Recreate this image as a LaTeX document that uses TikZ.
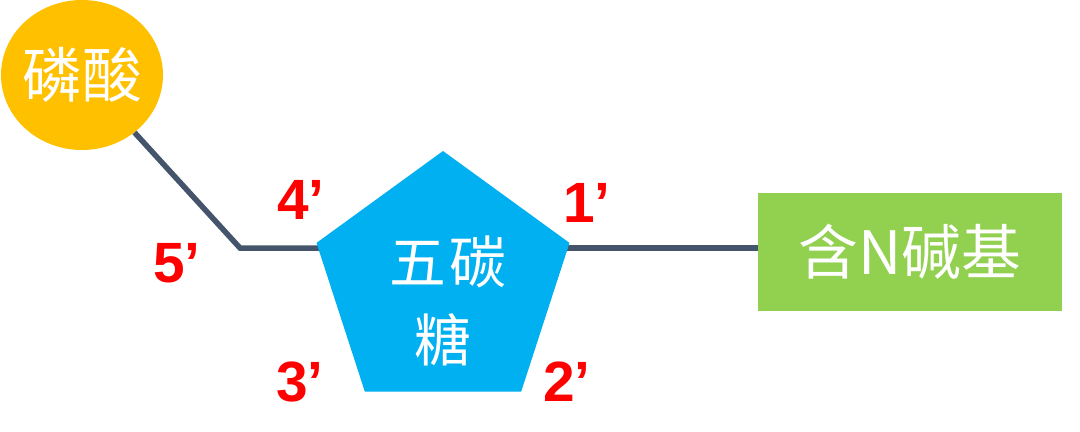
\documentclass[tikz,border=0pt]{standalone}
\usepackage{fontspec}
\setmainfont{Liberation Sans}
\newfontfamily\cjk{Noto Sans CJK SC}
\usetikzlibrary{shapes.geometric,backgrounds}

\definecolor{phoscol}{HTML}{FFC000}
\definecolor{sugarcol}{HTML}{00B0F0}
\definecolor{basecol}{HTML}{92D050}
\definecolor{bondcol}{HTML}{44546A}

\tikzset{
    bond/.style={draw=bondcol, line width=5.5bp},
    primelabel/.style={text=red, inner sep=0, font=\fontsize{57}{57}\selectfont\bfseries},
    cjklabel/.style={text=white, font=\cjk\fontsize{60}{62}\selectfont},
}

\begin{document}
\begin{tikzpicture}[x=1bp, y=-1bp]
    \useasboundingbox (0,0) rectangle (1080,431);

    % Phosphate
    \node[ellipse, fill=phoscol, minimum width=162bp, minimum height=150bp, inner sep=0] (phos) at (82,75) {};
    \node[cjklabel] (phostext) at (phos) {磷酸};

    % Sugar
    \node[regular polygon, regular polygon sides=5, minimum size=266bp, inner sep=0, fill=sugarcol] (sugar) at (443,284) {};
    \node[cjklabel, font=\cjk\fontsize{57}{57}\selectfont] (sugartop) at (448,262) {五\kern3bp 碳};
    \node[cjklabel, font=\cjk\fontsize{57}{57}\selectfont] (sugarbot) at (443,340) {糖};

    % Base
    \node[rectangle, fill=basecol, minimum width=304bp, minimum height=118bp, inner sep=0, cjklabel] (base) at (910,252) {含N碱基};

    % Bonds
    \coordinate (c5) at (240,248);
    \begin{scope}[on background layer]
        \draw[bond] (phos) -- (c5) -- (sugar.center |- c5);
        \draw[bond] (sugar.center |- c5) -- (base.west |- c5);
    \end{scope}

    % Carbon numbers
    \node[primelabel] (p1) at (587,203) {1’};
    \node[primelabel] (p2) at (567,382) {2’};
    \node[primelabel] (p3) at (300,382) {3’};
    \node[primelabel] (p4) at (301,200) {4’};
    \node[primelabel] (p5) at (177,263) {5’};
\end{tikzpicture}
\end{document}
